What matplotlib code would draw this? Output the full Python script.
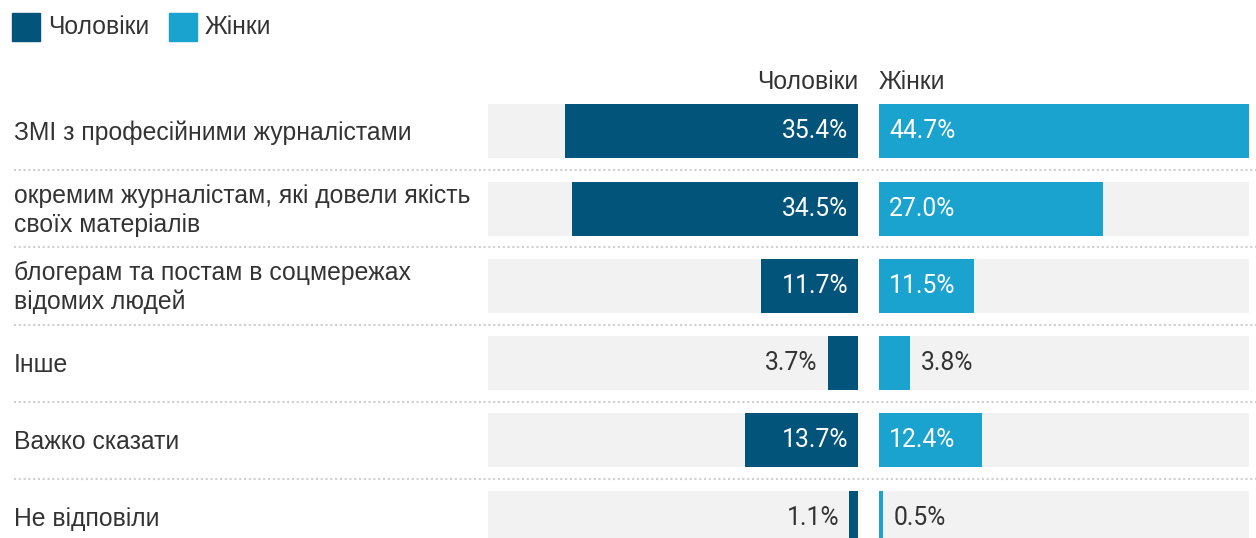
import numpy as np
import matplotlib.pyplot as plt
from matplotlib.patches import Rectangle

# Дані
categories = [
    "ЗМІ з професійними журналістами",
    "окремим журналістам, які довели якість\nсвоїх матеріалів",
    "блогерам та постам в соцмережах\nвідомих людей",
    "Інше",
    "Важко сказати",
    "Не відповіли",
]
men = [35.4, 34.5, 11.7, 3.7, 13.7, 1.1]
women = [44.7, 27.0, 11.5, 3.8, 12.4, 0.5]
series_names = ["Чоловіки", "Жінки"]

c_men = "#03547a"
c_women = "#1ba3cf"
c_bg = "#f2f2f2"
c_text = "#333333"
label_font = "Liberation Sans"
num_font = "Roboto"
fs = 17.8

W, H = 1256, 538
fig = plt.figure(figsize=(W / 100, H / 100), dpi=100)

vmax = max(max(men), max(women))
y = np.arange(len(categories))
row_top_px = 92.65
row_px = 77.3
ybottom = (H - row_top_px) / row_px - 0.5
ax_h = (H - row_top_px) / H

# фоновий шар: підписи категорій і пунктирні роздільники
ax_bg = fig.add_axes([0, 0, 1, ax_h])
ax_bg.set_xlim(0, W)
ax_bg.set_ylim(ybottom, -0.5)
ax_bg.axis("off")
for i, cat in enumerate(categories):
    ax_bg.text(14, i + 0.02, cat, ha="left", va="center", fontsize=fs,
               family=label_font, color=c_text, linespacing=1.25)
for i in range(len(categories) - 1):
    ax_bg.plot([14, W], [i + 0.5, i + 0.5], color="#cfcfcf", lw=1.5,
               linestyle=(0, (1, 1.3)), solid_capstyle="butt")

ax_m = fig.add_axes([488 / W, 0, 370.3 / W, ax_h])
ax_w = fig.add_axes([879 / W, 0, 370.3 / W, ax_h])

bar_h = 54 / row_px
pad = 10 / 370.3 * vmax
head_y = -0.5 - 3.6 / row_px
for ax, vals, col, name, side in [(ax_m, men, c_men, series_names[0], "left"),
                                  (ax_w, women, c_women, series_names[1], "right")]:
    ax.barh(y, [vmax] * len(y), height=bar_h, color=c_bg)
    ax.barh(y, vals, height=bar_h, color=col)
    ax.set_xlim(0, vmax)
    ax.set_ylim(ybottom, -0.5)
    if side == "left":
        ax.invert_xaxis()
    ax.axis("off")
    ha = "right" if side == "left" else "left"
    for i, v in enumerate(vals):
        txt = f"{v:.1f}%"
        if v > 8:
            ax.text(pad, i, txt, ha=ha, va="center", fontsize=fs,
                    family=num_font, color="white")
        else:
            ax.text(v + pad, i, txt, ha=ha, va="center", fontsize=fs,
                    family=num_font, color=c_text)
    # заголовки колонок
    ax.text(0, head_y, name, ha=ha, va="baseline", fontsize=fs,
            family=label_font, color=c_text, clip_on=False)

# легенда зверху
leg_items = [(12, c_men, series_names[0]), (169, c_women, series_names[1])]
for x0, col, name in leg_items:
    fig.patches.append(Rectangle((x0 / W, 1 - 41 / H), 28 / W, 28 / H,
                                 transform=fig.transFigure, color=col))
    fig.text((x0 + 36) / W, 1 - 34.3 / H, name, ha="left", va="baseline",
             fontsize=fs, family=label_font, color=c_text)

fig.savefig("out.png", dpi=100)
